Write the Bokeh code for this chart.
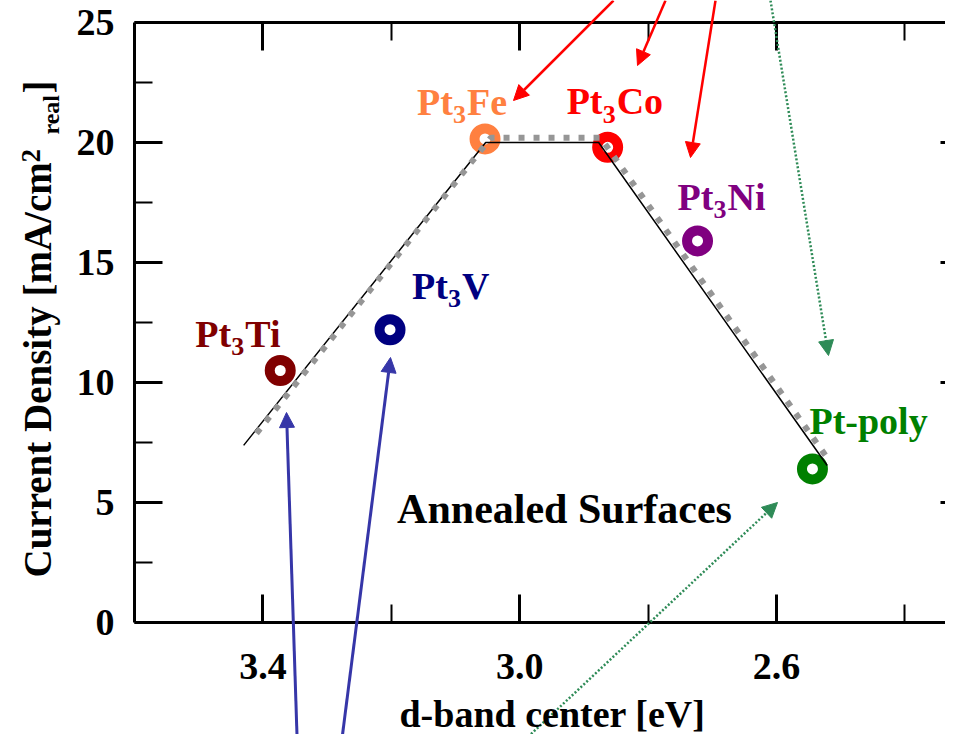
import math
from bokeh.plotting import figure
from bokeh.models import (Range1d, FixedTicker, LinearAxis, Label, Arrow,
                          NormalHead, ColumnDataSource, PrintfTickFormatter)
from bokeh.core.properties import value
from bokeh.embed import file_html
from bokeh.resources import INLINE

# ---------------- data ----------------
name_prefix = ["Pt", "Pt", "Pt", "Pt", "Pt", "Pt-poly"]
name_sub = ["3", "3", "3", "3", "3", ""]
name_suffix = ["Ti", "V", "Fe", "Co", "Ni", ""]
d_band = [3.373, 3.202, 3.054, 2.863, 2.723, 2.544]
current = [10.5, 12.2, 20.15, 19.8, 15.9, 6.4]
colors = ["#800000", "#000080", "#FF8040", "#FF0000", "#800080", "#008000"]

# volcano guide lines
fit_x = [3.430, 3.053, 2.877, 2.521]
fit_y = [7.38, 20.0, 20.0, 6.54]
trend_x = [3.410, 3.045, 2.874, 2.516]
trend_y = [7.88, 20.2, 20.2, 6.67]

x_major = [3.4, 3.0, 2.6]
x_minor = [3.2, 2.8, 2.4]
y_major = [0, 5, 10, 15, 20, 25]
y_minor = [2.5, 7.5, 12.5, 17.5, 22.5]
x_box = (3.6, 2.301)      # plotting box in data units
y_box = (0, 25)

# ---------------- layout ----------------
W, H = 945, 734
BOX_L, BOX_T, BOX_B = 134, 22, 622      # box edges in canvas px
PX_PER_X = 642.0
PX_PER_Y = (BOX_B - BOX_T) / (y_box[1] - y_box[0])
FONT = "Liberation Serif"

def px2x(px):
    return x_box[0] - (px - BOX_L) / PX_PER_X

def px2y(py):
    return (BOX_B - py) / PX_PER_Y

p = figure(width=W, height=H,
           x_range=Range1d(px2x(0), px2x(W)), y_range=Range1d(px2y(H), px2y(0)),
           output_backend="svg", toolbar_location=None, min_border=0)
p.outline_line_color = None
p.xgrid.visible = False
p.ygrid.visible = False
p.background_fill_color = "white"
p.border_fill_color = "white"

def style_axis(ax, ticks, minors, loc, bounds, labels=True):
    ax.ticker = FixedTicker(ticks=ticks, minor_ticks=minors)
    ax.fixed_location = loc
    ax.bounds = bounds
    ax.axis_line_width = 3
    ax.axis_line_color = "black"
    ax.major_tick_in = 28
    ax.major_tick_out = 0
    ax.minor_tick_in = 18
    ax.minor_tick_out = 0
    ax.major_tick_line_width = 3
    ax.minor_tick_line_width = 2
    ax.major_label_text_font = FONT
    ax.major_label_text_font_style = "bold"
    ax.major_label_text_font_size = "38px"
    ax.major_label_text_color = "black"
    if not labels:
        ax.major_label_overrides = {t: "" for t in ticks}

xb = p.xaxis[0]
style_axis(xb, x_major, x_minor, y_box[0], x_box)
xb.formatter = PrintfTickFormatter(format="%.1f")
xb.major_label_standoff = 31

yl = p.yaxis[0]
style_axis(yl, y_major, y_minor, x_box[0], y_box)
yl.major_label_standoff = 20

xt = LinearAxis()
style_axis(xt, x_major, x_minor, y_box[1], x_box, labels=False)
p.add_layout(xt, "above")
yr = LinearAxis()
style_axis(yr, y_major, y_minor, x_box[1], y_box, labels=False)
p.add_layout(yr, "right")

# ---------------- marks ----------------
src = ColumnDataSource(dict(
    x=d_band, y=current, c=colors,
    pre=name_prefix, sub=name_sub, suf=name_suffix,
    dx=[-85, 22, -68, -41, -20, -3],
    dy=[-37, -44, -37, -46, -44, -48],
))
src.data["dx_sub"] = [d + 36 for d in src.data["dx"]]
src.data["dy_sub"] = [d + 13 for d in src.data["dy"]]
src.data["dx_suf"] = [d + 50 for d in src.data["dx"]]

p.scatter("x", "y", source=src, marker="circle", size=21, line_width=10,
          line_color="c", fill_color="white")

p.line(fit_x, fit_y, line_color="black", line_width=1.5)
p.line(trend_x, trend_y, line_color="#969696", line_width=6, line_dash="6 9")

common = dict(source=src, text_color="c", text_font=value(FONT),
              text_font_style="bold", text_align="left",
              text_baseline="alphabetic")
p.text(x="x", y="y", text="pre", x_offset="dx", y_offset="dy",
       text_font_size="38px", **common)
p.text(x="x", y="y", text="sub", x_offset="dx_sub", y_offset="dy_sub",
       text_font_size="26px", **common)
p.text(x="x", y="y", text="suf", x_offset="dx_suf", y_offset="dy",
       text_font_size="38px", **common)

# ---------------- annotations ----------------
arrows = [
    ((613, 0), (513, 100), "#FF0000", None, 2.5),
    ((665, 0), (637, 65), "#FF0000", None, 2.5),
    ((715, 0), (690, 157), "#FF0000", None, 2.5),
    ((770, 0), (828, 355), "#2E8B57", "2 2", 2.5),
    ((513, 750), (777, 502), "#2E8B57", "2 2", 2.5),
    ((297, 750), (286, 412), "#3636A8", None, 3),
    ((340, 750), (390, 357), "#3636A8", None, 3),
]
for (sx, sy), (ex, ey), col, dash, lw in arrows:
    kw = dict(line_dash=dash) if dash else {}
    p.add_layout(Arrow(x_start=px2x(sx), y_start=px2y(sy),
                       x_end=px2x(ex), y_end=px2y(ey),
                       line_color=col, line_width=lw,
                       end=NormalHead(size=15, fill_color=col, line_color=col),
                       **kw))

def add_text(txt, lx, ly, fs, angle=0.0, align="left"):
    p.add_layout(Label(x=px2x(lx), y=px2y(ly), text=txt, angle=angle,
                       text_font=FONT, text_font_style="bold", text_font_size=fs,
                       text_color="black", text_align=align,
                       text_baseline="alphabetic"))

add_text("Annealed Surfaces", 564, 508, "42px", align="center")
add_text("d-band center [eV]", 552, 713, "38px", align="center")

for txt, lx, ly, fs in [("Current Density [mA/cm", 37, 577, "39px"),
                        ("2", 30, 162, "27px"),
                        ("real", 50, 134, "24px"),
                        ("]", 37, 93, "39px")]:
    add_text(txt, lx, ly, fs, angle=math.pi / 2)

open("out.html", "w").write(file_html(p, INLINE))
